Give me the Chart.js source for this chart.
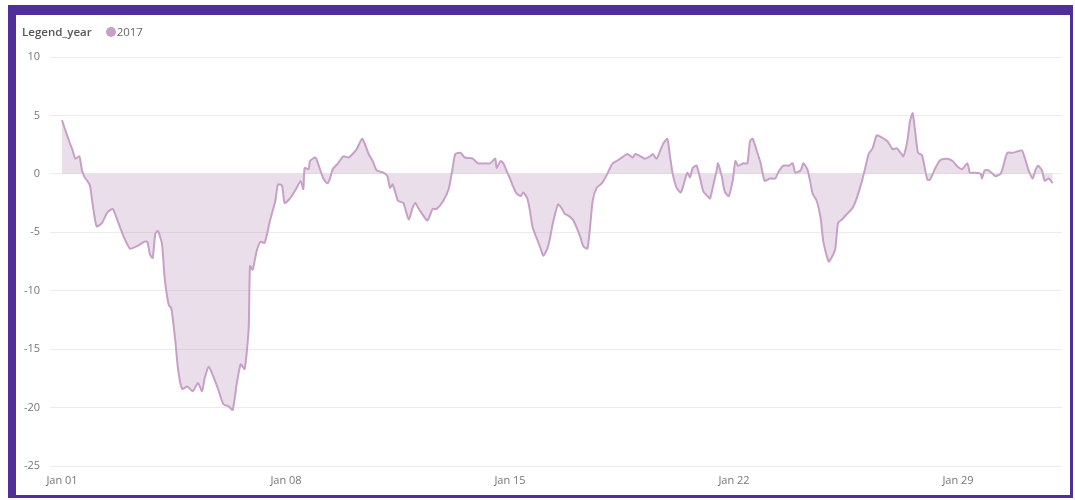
<!DOCTYPE html>
<html>
<head>
<meta charset="utf-8">
<script src="https://cdn.jsdelivr.net/npm/chart.js@4"></script>
<style>
  body { margin: 0; background: #fff; font-family: "Open Sans", sans-serif; }
  #frame {
    position: absolute; left: 8px; top: 5px; width: 1054px; height: 480px;
    border-style: solid; border-color: #512f98;
    border-width: 10px 3px 3px 8px;
    background: #fff;
  }
  #legend { position: absolute; left: 6px; top: 9px; font-size: 11.5px; color: #666; line-height: 16px; }
  #legend b { font-weight: 600; color: #555; margin-right: 14px; }
  #legend .dot { display: inline-block; width: 10px; height: 10px; border-radius: 50%;
    background: #c7a0c7; vertical-align: -1px; margin-right: 1px; }
  #wrap { position: absolute; left: 0; top: 0; width: 1054px; height: 480px; }
</style>
</head>
<body>
<div id="frame">
  <div id="wrap"><canvas id="myChart"></canvas></div>
  <div id="legend"><b>Legend_year</b><span class="dot"></span>2017</div>
</div>
<script>
// hours since Jan 01 00:00
var hours = [0,2,6,8,10,13,15,17,19,21,23,26,30,34,38,41,46,51,56,62,64,66,68,70,72,75,77,80,82,85,87,90,94,98,102,105,107,110,113,117,121,125,128,131,134,137,140,141,143,146,149,152,156,160,162,165,167,171,176,179,181,182,185,186,190,192,196,199,201,203,207,211,215,218,221,225,227,230,233,236,241,244,246,248,252,256,260,263,265,267,270,274,278,281,286,290,293,295,299,302,308,312,317,321,323,325,326,329,331,334,336,338,341,344,346,349,351,353,356,359,361,364,366,368,372,375,377,380,383,386,389,391,394,396,398,401,405,409,411,413,416,420,424,428,430,434,437,441,443,446,449,451,454,456,458,461,464,466,469,471,473,476,479,481,484,486,488,491,492,495,497,500,503,505,507,511,514,516,518,521,524,527,531,535,537,541,545,548,550,554,556,559,561,563,566,569,571,575,578,580,582,585,589,593,596,600,602,605,608,611,615,619,623,626,629,631,634,636,638,640,642,645,649,651,655,659,664,668,671,675,679,681,685,689,690,692,695,698,700,704,706,709,713,716,720,722,725,728,730,732,735,737,740,743];
// temperature values for 2017
var temps = [4.6,3.9,2.6,2.0,1.3,1.5,0.3,-0.3,-0.6,-1.0,-2.6,-4.5,-4.2,-3.3,-3.0,-3.8,-5.3,-6.4,-6.2,-5.8,-5.8,-6.9,-7.2,-5.1,-4.9,-6.0,-8.9,-11.2,-11.5,-14.3,-16.7,-18.4,-18.2,-18.6,-17.9,-18.6,-17.5,-16.5,-17.2,-18.4,-19.7,-19.9,-20.2,-18.0,-16.3,-16.7,-13.2,-7.9,-8.2,-6.6,-5.8,-5.9,-4.0,-2.3,-0.9,-1.0,-2.5,-2.1,-1.2,-0.6,-1.3,0.5,0.4,1.1,1.4,0.9,-0.4,-0.8,-0.4,0.4,0.9,1.5,1.4,1.7,2.1,3.0,2.6,1.7,1.1,0.3,0.1,-0.2,-1.2,-0.9,-2.3,-2.5,-3.9,-2.9,-2.5,-2.9,-3.4,-4.0,-3.0,-3.0,-2.3,-1.3,0.5,1.7,1.8,1.4,1.3,0.9,0.9,0.9,1.1,1.3,0.5,1.1,0.9,0.1,-0.4,-1.0,-1.7,-1.9,-1.6,-2.1,-3.2,-4.6,-5.5,-6.4,-7.0,-6.4,-5.5,-4.3,-2.6,-3.0,-3.4,-3.6,-3.9,-4.6,-5.5,-6.2,-6.4,-4.6,-2.3,-1.2,-0.8,0.0,0.5,0.9,1.1,1.4,1.7,1.4,1.7,1.5,1.3,1.5,1.7,1.3,2.1,2.6,3.0,1.5,0.0,-1.2,-1.6,-1.0,0.1,-0.3,0.5,0.7,-0.6,-1.5,-1.9,-2.1,-1.2,0.3,0.9,-0.3,-1.5,-1.9,-0.6,1.1,0.7,0.9,0.9,2.8,3.0,2.0,0.9,-0.6,-0.4,-0.4,0.1,0.7,0.7,0.9,0.1,0.3,0.9,0.4,-0.6,-1.7,-2.3,-3.8,-5.8,-7.5,-7.0,-6.4,-4.2,-3.9,-3.4,-2.9,-2.1,-0.6,0.3,1.7,2.2,3.3,3.1,2.8,2.1,2.2,1.8,1.5,2.8,4.5,5.2,3.5,1.8,1.6,-0.5,-0.5,0.5,1.2,1.3,1.1,0.7,0.4,0.9,0.1,0.1,0.0,-0.4,0.3,0.3,0.0,-0.2,0.0,0.7,1.8,1.8,1.9,2.0,1.4,0.3,-0.4,0.3,0.7,0.3,-0.6,-0.4,-0.8];
var tickHours = [0, 168, 336, 504, 672];
var tickLabels = ["Jan 01", "Jan 08", "Jan 15", "Jan 22", "Jan 29"];

var points = hours.map(function(h, i) { return {x: h, y: temps[i]}; });

new Chart("myChart", {
  type: "line",
  data: {
    datasets: [{
      label: "2017",
      data: points,
      borderColor: "#c7a0c7",
      backgroundColor: "rgba(199,160,199,0.35)",
      borderWidth: 2,
      pointRadius: 0,
      tension: 0.2,
      fill: "origin"
    }]
  },
  options: {
    responsive: true,
    maintainAspectRatio: false,
    animation: false,
    layout: { padding: {left: 0, right: 8, top: 42, bottom: 0} },
    plugins: { legend: { display: false }, tooltip: { enabled: false } },
    scales: {
      x: {
        type: "linear",
        min: -9,
        max: 750,
        afterBuildTicks: function(axis) {
          axis.ticks = tickHours.map(function(v) { return {value: v}; });
        },
        afterFit: function(axis) { axis.height = 29; },
        grid: { display: false },
        border: { display: false },
        ticks: {
          autoSkip: false,
          maxRotation: 0,
          padding: 0,
          color: "#777",
          font: { family: "Open Sans", size: 11 },
          callback: function(v) {
            var i = tickHours.indexOf(v);
            return i >= 0 ? tickLabels[i] : "";
          }
        }
      },
      y: {
        min: -25,
        max: 10,
        afterFit: function(axis) { axis.width = 34; },
        grid: { color: "#ececec", drawTicks: false },
        border: { display: false },
        ticks: {
          stepSize: 5,
          padding: 10,
          color: "#777",
          font: { family: "Open Sans", size: 11 }
        }
      }
    }
  }
});
</script>
</body>
</html>
